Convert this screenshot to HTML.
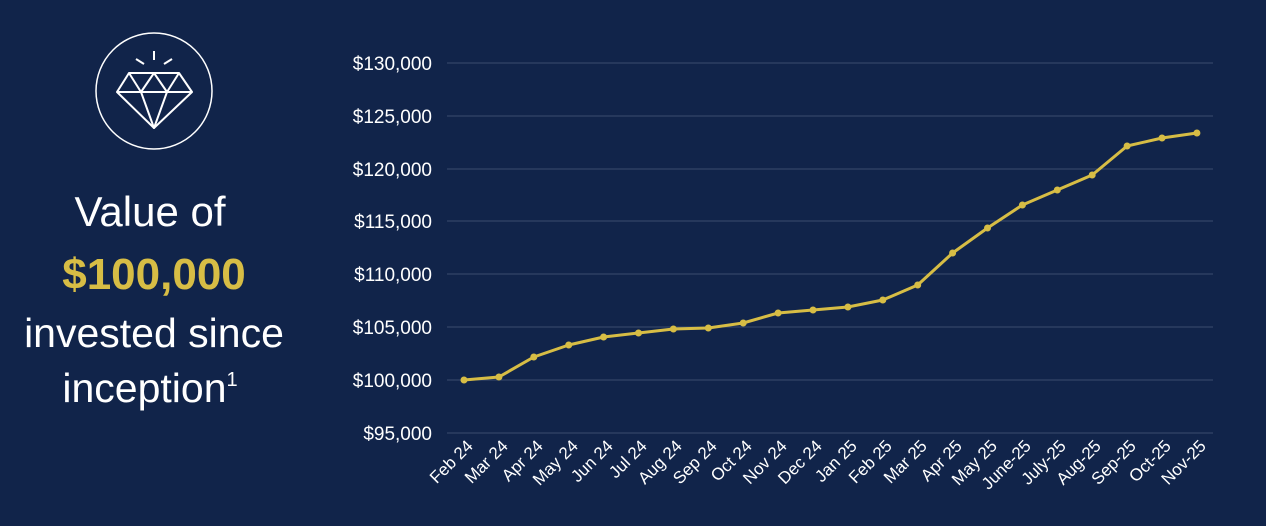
<!DOCTYPE html>
<html><head><style>
body{margin:0;background:#11244a;width:1266px;height:526px;overflow:hidden}
svg{display:block}
</style></head><body>
<svg width="1266" height="526" xmlns="http://www.w3.org/2000/svg" font-family="Liberation Sans, sans-serif">
<rect width="1266" height="526" fill="#11244a"/>
<circle cx="154" cy="91" r="58" fill="none" stroke="#fff" stroke-width="1.5"/>
<g fill="none" stroke="#fff" stroke-width="2" stroke-linejoin="round">
<polygon points="129,73 179,73 192,92 154,128 117,92"/>
<line x1="117" y1="92" x2="192" y2="92"/>
<polyline points="129,73 141,92 154,73 167,92 179,73"/>
<polyline points="141,92 154,128 167,92"/>
<line x1="154" y1="51" x2="154" y2="60"/>
<line x1="136" y1="59" x2="144" y2="64"/>
<line x1="172" y1="59" x2="164" y2="64"/>
</g>
<g fill="#fff" text-anchor="middle" font-size="41">
<text x="150" y="226" font-size="42">Value of</text>
<text x="154" y="289" fill="#d7bd45" font-weight="bold" font-size="44">$100,000</text>
<text x="154" y="347">invested since</text>
<text x="150" y="402">inception<tspan font-size="20" dy="-16">1</tspan></text>
</g>
<g stroke="#3a4d6e" stroke-width="1">
<line x1="447" x2="1213" y1="63" y2="63"/><line x1="447" x2="1213" y1="116" y2="116"/>
<line x1="447" x2="1213" y1="169" y2="169"/><line x1="447" x2="1213" y1="221" y2="221"/>
<line x1="447" x2="1213" y1="274" y2="274"/><line x1="447" x2="1213" y1="327" y2="327"/>
<line x1="447" x2="1213" y1="380" y2="380"/><line x1="447" x2="1213" y1="433" y2="433"/>
</g>
<g fill="#fff" font-size="19" text-anchor="end">
<text x="432" y="70">$130,000</text><text x="432" y="123">$125,000</text>
<text x="432" y="176">$120,000</text><text x="432" y="228">$115,000</text>
<text x="432" y="281">$110,000</text><text x="432" y="334">$105,000</text>
<text x="432" y="387">$100,000</text><text x="432" y="440">$95,000</text>
</g>
<g fill="#fff" font-size="17" text-anchor="end">
<text transform="translate(474,447) rotate(-45)">Feb 24</text>
<text transform="translate(509,447) rotate(-45)">Mar 24</text>
<text transform="translate(544,447) rotate(-45)">Apr 24</text>
<text transform="translate(579,447) rotate(-45)">May 24</text>
<text transform="translate(614,447) rotate(-45)">Jun 24</text>
<text transform="translate(648,447) rotate(-45)">Jul 24</text>
<text transform="translate(683,447) rotate(-45)">Aug 24</text>
<text transform="translate(718,447) rotate(-45)">Sep 24</text>
<text transform="translate(753,447) rotate(-45)">Oct 24</text>
<text transform="translate(788,447) rotate(-45)">Nov 24</text>
<text transform="translate(823,447) rotate(-45)">Dec 24</text>
<text transform="translate(858,447) rotate(-45)">Jan 25</text>
<text transform="translate(893,447) rotate(-45)">Feb 25</text>
<text transform="translate(928,447) rotate(-45)">Mar 25</text>
<text transform="translate(963,447) rotate(-45)">Apr 25</text>
<text transform="translate(998,447) rotate(-45)">May 25</text>
<text transform="translate(1032,447) rotate(-45)">June-25</text>
<text transform="translate(1067,447) rotate(-45)">July-25</text>
<text transform="translate(1102,447) rotate(-45)">Aug-25</text>
<text transform="translate(1137,447) rotate(-45)">Sep-25</text>
<text transform="translate(1172,447) rotate(-45)">Oct-25</text>
<text transform="translate(1207,447) rotate(-45)">Nov-25</text>
</g>
<polyline fill="none" stroke="#d7bd45" stroke-width="3" stroke-linejoin="round" points="464,380 498.9,377 533.8,357 568.7,345 603.6,337 638.5,333 673.4,329 708.3,328 743.2,323 778.1,313 813,310 847.9,307 882.8,300 917.7,285 952.6,253 987.5,228 1022.4,205 1057.3,190 1092.2,175 1127.1,146 1162,138 1196.9,133"/>
<g fill="#d7bd45">
<circle cx="464" cy="380" r="3.5"/><circle cx="498.9" cy="377" r="3.5"/><circle cx="533.8" cy="357" r="3.5"/><circle cx="568.7" cy="345" r="3.5"/><circle cx="603.6" cy="337" r="3.5"/><circle cx="638.5" cy="333" r="3.5"/><circle cx="673.4" cy="329" r="3.5"/><circle cx="708.3" cy="328" r="3.5"/><circle cx="743.2" cy="323" r="3.5"/><circle cx="778.1" cy="313" r="3.5"/><circle cx="813" cy="310" r="3.5"/><circle cx="847.9" cy="307" r="3.5"/><circle cx="882.8" cy="300" r="3.5"/><circle cx="917.7" cy="285" r="3.5"/><circle cx="952.6" cy="253" r="3.5"/><circle cx="987.5" cy="228" r="3.5"/><circle cx="1022.4" cy="205" r="3.5"/><circle cx="1057.3" cy="190" r="3.5"/><circle cx="1092.2" cy="175" r="3.5"/><circle cx="1127.1" cy="146" r="3.5"/><circle cx="1162" cy="138" r="3.5"/><circle cx="1196.9" cy="133" r="3.5"/>
</g>
</svg>
</body></html>
